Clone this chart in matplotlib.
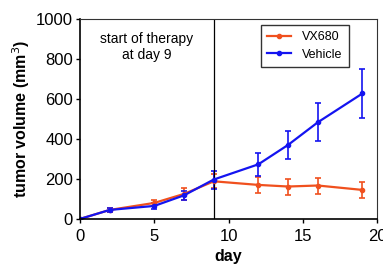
import matplotlib
matplotlib.use("Agg")
import matplotlib.pyplot as plt
from matplotlib.lines import Line2D

plt.rcParams['font.family'] = ['Liberation Sans', 'DejaVu Sans']

days_vx = [0, 2, 5, 7, 9, 12, 14, 16, 19]
vx680 = [0, 45, 80, 125, 188, 170, 162, 167, 145]
vx680_err = [0, 10, 15, 30, 35, 40, 40, 40, 40]

days_veh = [0, 2, 5, 7, 9, 12, 14, 16, 19]
vehicle = [0, 45, 65, 118, 197, 273, 370, 483, 627]
vehicle_err = [0, 10, 15, 22, 45, 57, 72, 95, 120]

xticks = [0, 5, 10, 15, 20]
yticks = [0, 200, 400, 600, 800, 1000]

c_vx = '#F0501E'
c_veh = '#1414F0'

fig = plt.figure(figsize=(3.83, 2.66), dpi=100)
ax = fig.add_axes([0.209, 0.177, 0.776, 0.752])

ax.errorbar(days_vx, vx680, yerr=vx680_err, color=c_vx, marker='o', markersize=3,
            linewidth=1.6, elinewidth=1.2, capsize=2.5, capthick=1.2)
ax.errorbar(days_veh, vehicle, yerr=vehicle_err, color=c_veh, marker='o', markersize=3,
            linewidth=1.6, elinewidth=1.2, capsize=2.5, capthick=1.2)

ax.axvline(9, color='black', linewidth=0.9)
ax.text(4.5, 935, 'start of therapy\nat day 9', ha='center', va='top', fontsize=10, linespacing=1.15)

ax.set_xlim(0, 20)
ax.set_ylim(0, 1000)
ax.set_xticks(xticks)
ax.set_yticks(yticks)
ax.tick_params(labelsize=12, length=3, width=1)
ax.tick_params(axis='x', pad=4)
ax.tick_params(axis='y', pad=2)
for s in ['top', 'right']:
    ax.spines[s].set_linewidth(0.8)
    ax.spines[s].set_color('#333333')
ax.spines['left'].set_linewidth(1.2)
ax.spines['bottom'].set_linewidth(1.2)

ax.set_xlabel('day', fontsize=11.5, fontweight='bold', labelpad=4)
ax.set_ylabel('tumor volume (mm$^3$)', fontsize=11.5, fontweight='bold', labelpad=3)

handles = [Line2D([], [], color=c_vx, marker='o', markersize=3, linewidth=1.6),
           Line2D([], [], color=c_veh, marker='o', markersize=3, linewidth=1.6)]
leg = ax.legend(handles, ['VX680', 'Vehicle'], loc='upper right', bbox_to_anchor=(0.905, 0.97),
                fontsize=9, frameon=True, fancybox=False, edgecolor='black',
                handlelength=1.9, handletextpad=0.9, borderpad=0.5, labelspacing=0.45,
                borderaxespad=0)
leg.get_frame().set_linewidth(1.0)

fig.savefig('out.png', dpi=100)
